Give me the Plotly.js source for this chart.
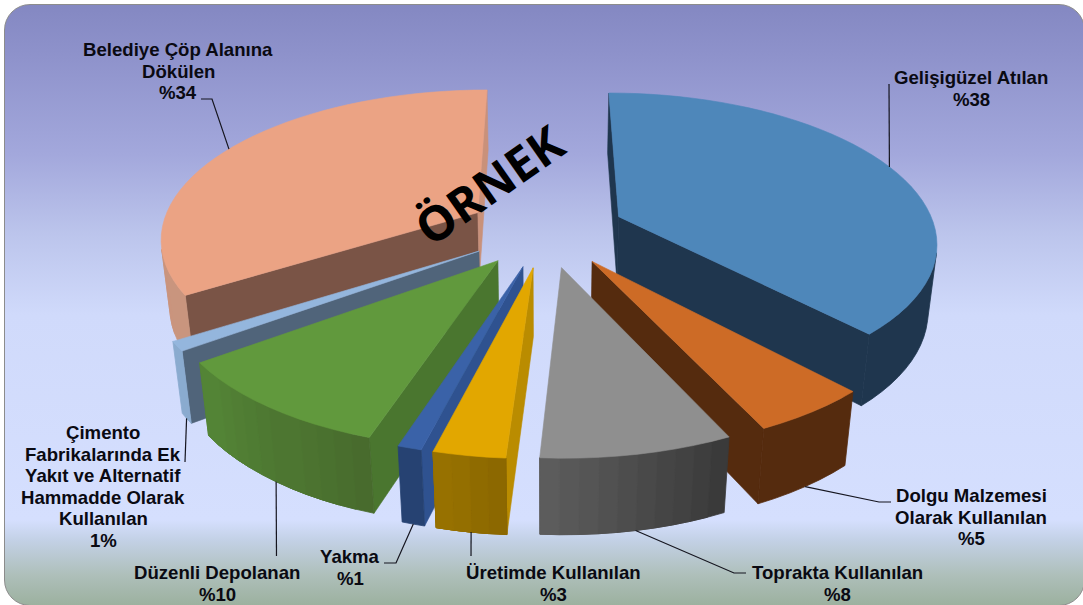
<!DOCTYPE html>
<html>
<head>
<meta charset="utf-8">
<script src="https://cdn.plot.ly/plotly-3.0.1.min.js"></script>
<style>
html,body{margin:0;padding:0;background:#fff;width:1083px;height:605px;overflow:hidden}
#card{position:absolute;left:4px;top:4px;width:1081px;height:602px;box-sizing:border-box;border:1.5px solid #8c8c8c;border-radius:26px;
background:linear-gradient(to bottom,#8488c2 0px,#8e92cb 50px,#a3a8dc 150px,#bcc5ec 230px,#d0dafb 310px,#d5dffe 515px,#c3d1e6 535px,#aebfba 570px,#9cb19f 600px)}
#chart{position:absolute;left:0;top:0;width:1083px;height:605px}
</style>
</head>
<body>
<div id="card"></div>
<div id="chart"></div>
<script>
// ---- data ----
const categories = ["Gelişigüzel Atılan","Dolgu Malzemesi<br>Olarak Kullanılan","Toprakta Kullanılan","Üretimde Kullanılan","Yakma","Düzenli Depolanan","Çimento<br>Fabrikalarında Ek<br>Yakıt ve Alternatif<br>Hammadde Olarak<br>Kullanılan","Belediye Çöp Alanına<br>Dökülen"];
const values = [38,5,8,3,1,10,1,34];
const valueLabels = ["%38","%5","%8","%3","%1","%10","1%","%34"];

// ---- styles ----
const topColors  = ["#4e87ba","#cd6b26","#8f8f8f","#e2a700","#3a62a8","#61993d","#94b6dd","#eba384"];
const wallAColors= ["#1f364e","#552b0e","#3a3a3a","#ba8c00","#2f5290","#4a762f","#50647a","#7a5446"];
const wallBColors= ["#1f364e","#552b0e","#5e5e5e","#ba8c00","#2f5290","#4a762f","#50647a","#c9917a"];
const rimStart   = ["#1f364e","#552b0e","#383838","#886500","#264272","#476a2c","#8aabcf","#c9957e"];
const rimEnd     = ["#1f364e","#552b0e","#5e5e5e","#987200","#264272","#548536","#8aabcf","#d08f75"];
const drawOrder  = [0,7,1,6,2,5,4,3];
// ---- label layout (pixel positions on the hidden axes) ----
const labelPos = [[971,88.3],[971,517.3],[837,583.3],[553,583.3],[350,567.3],[217,583.3],[103,486.3],[178,71.3]];
const lineStep = 21.5;
const leaderPaths = [[[889,84]],[[879,502],[891,502]],[[734,573],[746,573]],[[471,556]],[[396,563],[384,563]],[[276.5,556]],[[185,462]],[[212,99],[201,99]]];
const leaderOnBottom = [false,true,true,true,true,true,true,false];
// ---- projection of the exploded pie ----
const cam = {vx:546, vy:-700, A:930, B:317, k:0.1582, m:0.023, C:89.8, explode:0.25};

function project(X,Z,bottom){
  const w = 1 + cam.k*Z + (bottom?cam.m:0);
  return [cam.vx + cam.B*X/w, cam.vy + (cam.A + (bottom?cam.C:0))/w];
}
function area(p){let s=0;for(let i=0;i<p.length;i++){const a=p[i],b=p[(i+1)%p.length];s+=a[0]*b[1]-b[0]*a[1];}return s/2;}
function mix(c1,c2,t){
  const h=c=>[1,3,5].map(i=>parseInt(c.substr(i,2),16));
  const a=h(c1),b=h(c2);
  return 'rgb('+a.map((v,i)=>Math.round(v+(b[i]-v)*t)).join(',')+')';
}
function poly(pts,color,lw){
  const xs=pts.map(p=>p[0]).concat(pts[0][0]), ys=pts.map(p=>p[1]).concat(pts[0][1]);
  return {type:'scatter',mode:'lines',x:xs,y:ys,fill:'toself',fillcolor:color,line:{color:color,width:lw===undefined?0.6:lw,simplify:false},hoverinfo:'skip',showlegend:false};
}
const total = values.reduce((a,b)=>a+b,0);
const slices=[]; let acc=0;
values.forEach((v,i)=>{
  const t0=acc/total*2*Math.PI, t1=(acc+v)/total*2*Math.PI; acc+=v;
  const tm=(t0+t1)/2;
  slices.push({i,t0,t1,tm,ax:cam.explode*Math.sin(tm),az:cam.explode*Math.cos(tm)});
});
const rimXZ=(s,t)=>[s.ax+Math.sin(t),s.az+Math.cos(t)];
const traces=[];
drawOrder.forEach(idx=>{
  const s=slices[idx];
  const aT=project(s.ax,s.az,false), aB=project(s.ax,s.az,true);
  const n=Math.max(2,Math.ceil((s.t1-s.t0)/(Math.PI/60)));
  const ts=[];for(let j=0;j<=n;j++)ts.push(s.t0+(s.t1-s.t0)*j/n);
  const top=ts.map(t=>{const r=rimXZ(s,t);return project(r[0],r[1],false);});
  const bot=ts.map(t=>{const r=rimXZ(s,t);return project(r[0],r[1],true);});
  const wallA=[aT,top[0],bot[0],aB], wallB=[top[n],aT,aB,bot[n]];
  if(area(wallA)<0) traces.push(poly(wallA,wallAColors[idx]));
  if(area(wallB)<0) traces.push(poly(wallB,wallBColors[idx]));
  // outer rim: bands only where the colour varies, keeping the part facing the viewer
  const bands=rimStart[idx]===rimEnd[idx]?1:10;
  for(let b=0;b<bands;b++){
    const j0=Math.floor(n*b/bands), end=Math.min(n,b===bands-1?n:Math.ceil(n*(b+1)/bands)+1);
    const front=[];
    for(let j=j0;j<end;j++){front.push(area([top[j],top[j+1],bot[j+1],bot[j]])<0);}
    const first=front.indexOf(true), last=front.lastIndexOf(true);
    if(first>=0){
      const qq=top.slice(j0+first,j0+last+2).concat(bot.slice(j0+first,j0+last+2).reverse());
      traces.push(poly(qq,mix(rimStart[idx],rimEnd[idx],(b+0.5)/bands),0.8));
    }
  }
  traces.push(poly([aT].concat(top),topColors[idx]));
});
// leader lines start at the rim in the middle of each slice
slices.forEach(s=>{
  const r=rimXZ(s,s.tm);
  const start=project(r[0],r[1],leaderOnBottom[s.i]);
  const path=[start].concat(leaderPaths[s.i]);
  traces.push({type:'scatter',mode:'lines',x:path.map(p=>p[0]),y:path.map(p=>p[1]),line:{color:'#15151f',width:1.2},hoverinfo:'skip',showlegend:false});
});
const annotations=[];
categories.forEach((c,i)=>{
  const lines=c.split('<br>').concat(valueLabels[i]);
  lines.forEach((t,j)=>annotations.push({
    x:labelPos[i][0],y:labelPos[i][1]+(j-(lines.length-1)/2)*lineStep,xref:'x',yref:'y',showarrow:false,xanchor:'center',yanchor:'middle',
    text:t,font:{family:'"Liberation Sans",Arial,sans-serif',size:18.6,color:'#0a0a12',weight:700}
  }));
});
annotations.push({x:489,y:184.5,xref:'x',yref:'y',showarrow:false,textangle:-35,xanchor:'center',yanchor:'middle',
  text:'ÖRNEK',font:{family:'"Open Sans",sans-serif',size:48,color:'#000',weight:700}});
const layout={width:1083,height:605,margin:{l:0,r:0,t:0,b:0},paper_bgcolor:'rgba(0,0,0,0)',plot_bgcolor:'rgba(0,0,0,0)',
  xaxis:{range:[0,1083],visible:false,fixedrange:true},yaxis:{range:[605,0],visible:false,fixedrange:true},
  annotations:annotations,showlegend:false};
Plotly.newPlot('chart',traces,layout,{displayModeBar:false,staticPlot:true});
</script>
</body>
</html>
